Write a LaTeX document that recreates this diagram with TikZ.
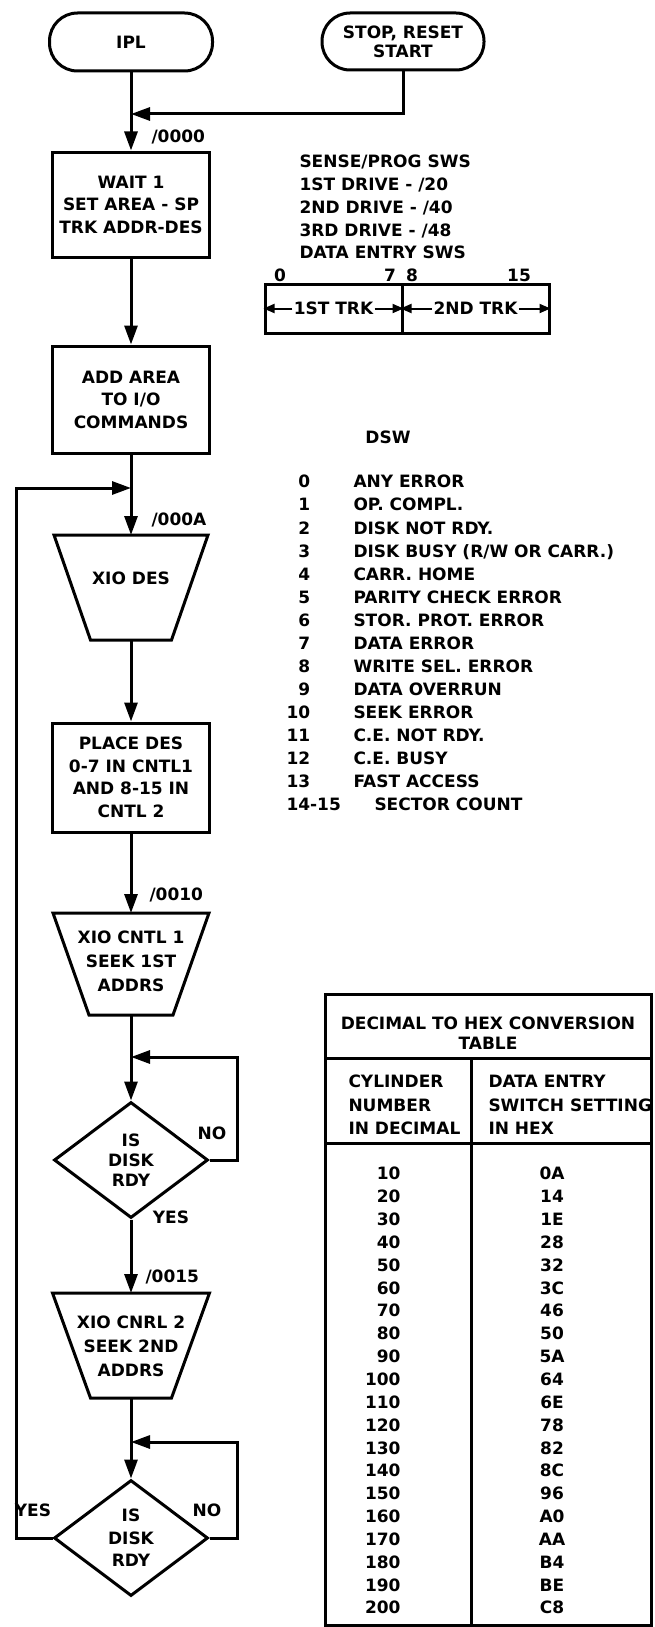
\documentclass[tikz,border=0pt]{standalone}
\usepackage{fontspec}
\setmainfont{DejaVu Sans}
\usetikzlibrary{shapes.geometric,arrows.meta}

\begin{document}
\begin{tikzpicture}[x=1pt,y=-1pt,line width=3pt,
  every node/.style={font=\fontsize{17}{22.5}\selectfont\bfseries,inner sep=0pt},
  term/.style={draw,rectangle,rounded corners=28pt,minimum width=163pt,minimum height=58pt,align=center},
  proc/.style={draw,rectangle,minimum width=157pt,align=center},
  decide/.style={draw,diamond,minimum width=154pt,minimum height=116pt,align=center},
  flow/.style={-{Triangle[length=19pt,width=13pt]}},
  trkarrow/.style={line width=2pt,-{Triangle[length=11pt,width=9pt]}},
  addr/.style={anchor=west},
  listtext/.style={align=left,font=\fontsize{17}{23.07}\selectfont\bfseries}]
  \useasboundingbox (0,0) rectangle (654,1627);

  % start of the flow
  \node[term] (ipl) at (131,42) {IPL};
  \node[term,minimum width=162pt,minimum height=57pt,
    font=\fontsize{17}{19}\selectfont\bfseries] (stop) at (403,41.5) {STOP, RESET\\START};
  \coordinate (j0) at (131,114);
  \draw (ipl.south) -- (j0);
  \draw[flow] (stop.south) |- (j0);

  \node[proc,minimum height=105pt] (wait) at (131,204.5) {WAIT 1\\SET AREA - SP\\TRK ADDR-DES};
  \draw[flow] (j0) -- (wait);
  \node[addr] (a0) at (150,137) {/0000};

  \node[proc,minimum height=107pt] (addio) at (131,399.5) {ADD AREA\\TO I/O\\COMMANDS};
  \draw[flow] (wait) -- (addio);

  % XIO DES
  \coordinate (j1) at (131,488);
  \coordinate (t1n) at (131,535);
  \coordinate (t1s) at (131,640);
  \draw (addio) -- (j1);
  \draw[flow] (j1) -- (t1n);
  \draw (54,535) -- (208,535) -- (171.5,640) -- (90.5,640) -- cycle;
  \node (xiodes) at (131,578) {XIO DES};
  \node[addr] (a1) at (150,520) {/000A};

  \node[proc,minimum height=109pt] (place) at (131,777.5) {PLACE DES\\0-7 IN CNTL1\\AND 8-15 IN\\CNTL 2};
  \draw[flow] (t1s) -- (place);

  % first seek
  \coordinate (t2n) at (131,913);
  \coordinate (t2s) at (131,1015);
  \draw[flow] (place) -- (t2n);
  \node[addr] (a2) at (148,895) {/0010};
  \draw (53,913) -- (209,913) -- (173,1015) -- (89,1015) -- cycle;
  \node[align=center,font=\fontsize{17}{24}\selectfont\bfseries] (seek1) at (131,961) {XIO CNTL 1\\SEEK 1ST\\ADDRS};

  \coordinate (j2) at (131,1057);
  \coordinate (r1) at (237,1057);
  \draw (t2s) -- (j2);
  \node[decide,font=\fontsize{17}{20}\selectfont\bfseries] (rdy1) at (131,1160) {IS\\DISK\\RDY};
  \draw[flow] (j2) -- (rdy1);
  \draw[flow] (rdy1.east) -| (r1) -- (j2);
  \node (no1) at (212,1133) {NO};
  \node (yes1) at (171,1217) {YES};

  % second seek
  \coordinate (t3n) at (131,1293);
  \coordinate (t3s) at (131,1398);
  \draw[flow] (rdy1.south) -- (t3n);
  \node[addr] (a3) at (144,1277) {/0015};
  \draw (52.5,1293) -- (209.5,1293) -- (171.5,1398) -- (90.5,1398) -- cycle;
  \node[align=center,font=\fontsize{17}{24}\selectfont\bfseries] (seek2) at (131,1346) {XIO CNRL 2\\SEEK 2ND\\ADDRS};

  \coordinate (j3) at (131,1442);
  \coordinate (r2) at (237,1442);
  \coordinate (lft) at (16,488);
  \draw (t3s) -- (j3);
  \node[decide] (rdy2) at (131,1538) {IS\\DISK\\RDY};
  \draw[flow] (j3) -- (rdy2);
  \draw[flow] (rdy2.east) -| (r2) -- (j3);
  \draw[flow] (rdy2.west) -| (lft) -- (j1);
  \node (no2) at (207,1510) {NO};
  \node (yes2) at (33,1510) {YES};

  % switch settings
  \node[listtext,anchor=north west,font=\fontsize{17}{22.7}\selectfont\bfseries] (sws) at (298,153.8)
    {SENSE/PROG SWS\\1ST DRIVE - /20\\2ND DRIVE - /40\\3RD DRIVE - /48\\DATA ENTRY SWS};
  \node (b0) at (280,275) {0};
  \node (b7) at (390,275) {7};
  \node (b8) at (412,275) {8};
  \node (b15) at (519,275) {15};
  \node[draw,minimum width=137pt,minimum height=49pt] (bitA) at (333.5,308.5) {};
  \node[draw,minimum width=147pt,minimum height=49pt] (bitB) at (475.5,308.5) {};
  \node (trkA) at (bitA) {1ST TRK};
  \node (trkB) at (bitB) {2ND TRK};
  \draw[trkarrow] (trkA) -- (bitA.west);
  \draw[trkarrow] (trkA) -- (bitA.east);
  \draw[trkarrow] (trkB) -- (bitB.west);
  \draw[trkarrow] (trkB) -- (bitB.east);

  % device status word
  \node (dsw) at (388,437) {DSW};
  \node[listtext,anchor=north west] (dswbits) at (285,473.8)
    {\hphantom{1}0\\\hphantom{1}1\\\hphantom{1}2\\\hphantom{1}3\\\hphantom{1}4\\\hphantom{1}5\\\hphantom{1}6\\\hphantom{1}7\\\hphantom{1}8\\\hphantom{1}9\\10\\11\\12\\13\\14-15};
  \node[listtext,anchor=north west] (dswtext) at (352,473.8)
    {ANY ERROR\\OP. COMPL.\\DISK NOT RDY.\\DISK BUSY (R/W OR CARR.)\\CARR. HOME\\PARITY CHECK ERROR\\STOR. PROT. ERROR\\DATA ERROR\\WRITE SEL. ERROR\\DATA OVERRUN\\SEEK ERROR\\C.E. NOT RDY.\\C.E. BUSY\\FAST ACCESS\\\hspace*{21pt}SECTOR COUNT};

  % conversion table
  \draw (325,994) rectangle (651,1625);
  \draw (325,1058) -- (651,1058);
  \draw (325,1143) -- (651,1143);
  \draw (471,1058) -- (471,1625);
  \node[align=center,font=\fontsize{17}{20}\selectfont\bfseries] (ttitle) at (488,1033) {DECIMAL TO HEX CONVERSION\\TABLE};
  \node[listtext,anchor=north west,font=\fontsize{17}{23.5}\selectfont\bfseries] (hdec) at (347,1073.8) {CYLINDER\\NUMBER\\IN DECIMAL};
  \node[listtext,anchor=north west,font=\fontsize{17}{23.5}\selectfont\bfseries] (hhex) at (487,1073.8) {DATA ENTRY\\SWITCH SETTING\\IN HEX};
  \node[align=right,anchor=north east,font=\fontsize{17}{22.84}\selectfont\bfseries] (cdec) at (402,1165.8)
    {10\\20\\30\\40\\50\\60\\70\\80\\90\\100\\110\\120\\130\\140\\150\\160\\170\\180\\190\\200};
  \node[align=center,anchor=north,font=\fontsize{17}{22.84}\selectfont\bfseries] (chex) at (552,1165.8)
    {0A\\14\\1E\\28\\32\\3C\\46\\50\\5A\\64\\6E\\78\\82\\8C\\96\\A0\\AA\\B4\\BE\\C8};
\end{tikzpicture}
\end{document}
